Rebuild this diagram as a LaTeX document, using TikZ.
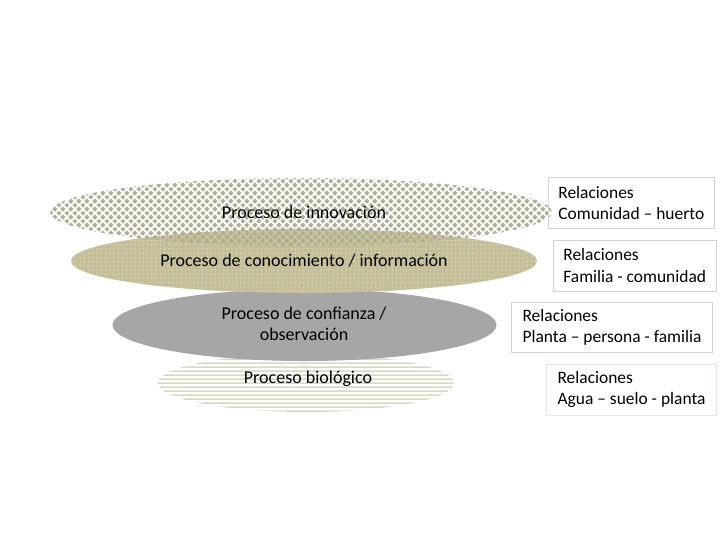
\documentclass[tikz,border=0pt]{standalone}
\usepackage{fontspec}
\setmainfont{Carlito}
\usetikzlibrary{patterns,patterns.meta}

\definecolor{rombo}{RGB}{176,174,146}
\definecolor{oliva}{RGB}{197,191,153}
\definecolor{punto}{RGB}{225,222,204}
\definecolor{gris}{RGB}{166,166,166}
\definecolor{raya}{RGB}{214,219,188}
\definecolor{borde}{RGB}{210,210,210}
\definecolor{bordeverde}{RGB}{222,236,218}

% diamond grid of the top layer
\tikzdeclarepattern{
  name=rombos,
  type=uncolored,
  bounding box={(0,0) and (5.6pt,5.6pt)},
  tile size={(5.6pt,5.6pt)},
  code={
    \fill (2.8pt,2.8pt) +(-1.7pt,0) -- +(0,1.7pt) -- +(1.7pt,0) -- +(0,-1.7pt) -- cycle;
    \fill (0,0) +(-1.7pt,0) -- +(0,1.7pt) -- +(1.7pt,0) -- +(0,-1.7pt) -- cycle;
    \fill (5.6pt,0) +(-1.7pt,0) -- +(0,1.7pt) -- +(1.7pt,0) -- +(0,-1.7pt) -- cycle;
    \fill (0,5.6pt) +(-1.7pt,0) -- +(0,1.7pt) -- +(1.7pt,0) -- +(0,-1.7pt) -- cycle;
    \fill (5.6pt,5.6pt) +(-1.7pt,0) -- +(0,1.7pt) -- +(1.7pt,0) -- +(0,-1.7pt) -- cycle;
  }
}

% horizontal stripes of the bottom layer
\tikzdeclarepattern{
  name=rayas,
  type=uncolored,
  bounding box={(0,0) and (1pt,2.85pt)},
  tile size={(1pt,2.85pt)},
  code={
    \fill (0,0) rectangle (1pt,1.5pt);
  }
}

\tikzset{
  proceso/.style={font=\fontsize{12.8}{15}\selectfont, align=center, inner sep=0pt},
  relacion/.style={draw=borde, line width=0.5pt, align=left, anchor=west,
    inner xsep=0.25cm, minimum height=1.28cm, font=\fontsize{12.4}{15}\selectfont}
}

\begin{document}
\begin{tikzpicture}[x=0.025cm, y=-0.025cm]
        \useasboundingbox (0,0) rectangle (720,540);

        % Draw the four layers, bottom one first
        \fill[pattern=rayas, pattern color=raya] (306,383) ellipse [x radius=148, y radius=29];
        \fill[gris] (304.5,325) ellipse [x radius=192, y radius=36];
        \fill[oliva] (304,261) ellipse [x radius=233, y radius=32];
        \fill[pattern=dots, pattern color=punto] (304,261) ellipse [x radius=233, y radius=32];
        \fill[pattern=rombos, pattern color=rombo] (301,212) ellipse [x radius=251, y radius=34];

        % Labels of the layers
        \node[proceso] (innovacion) at (304,212) {Proceso de innovación};
        \node[proceso] (conocimiento) at (304,261) {Proceso de conocimiento / información};
        \node[proceso] (confianza) at (304,324) {Proceso de confianza /\\observación};
        \node[proceso] (biologico) at (308,379) {Proceso biológico};

        % Relations on the right
        \node[relacion] (rel1) at (548,203) {Relaciones\\Comunidad – huerto};
        \node[relacion] (rel2) at (553,265.5) {Relaciones\\Familia - comunidad};
        \node[relacion, minimum height=1.25cm, inner xsep=0.28cm] (rel3) at (511,327) {Relaciones\\Planta – persona - familia};
        \node[relacion, draw=bordeverde, inner xsep=0.28cm] (rel4) at (546,389.5) {Relaciones\\Agua – suelo - planta};
    \end{tikzpicture}
\end{document}
